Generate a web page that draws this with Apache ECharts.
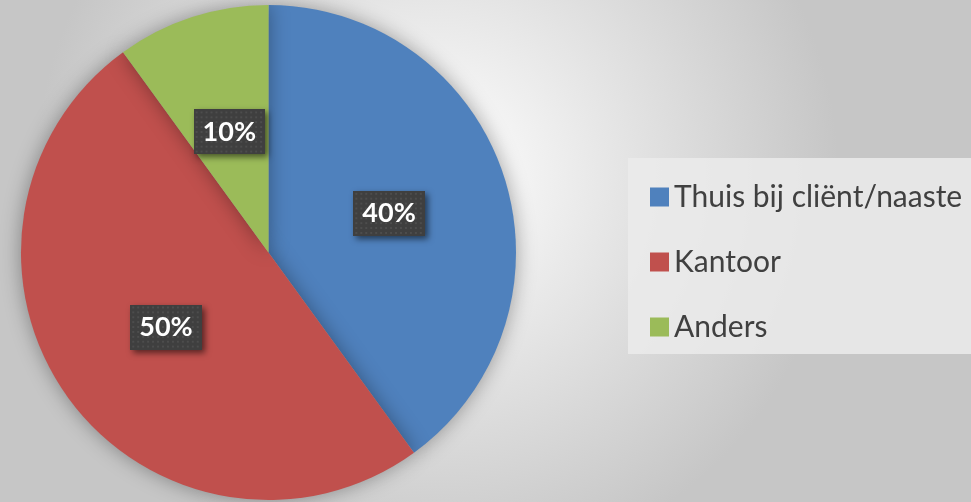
<!DOCTYPE html>
<html>
<head>
<meta charset="utf-8">
<script src="https://cdn.jsdelivr.net/npm/echarts@6/dist/echarts.min.js"></script>
<style>
    html, body { margin: 0; padding: 0; }
    #main { width: 971px; height: 502px; }
</style>
</head>
<body>
<div id="main"></div>
<script>
    // waarden uit de grafiek
    var categories = ['Thuis bij cliënt/naaste', 'Kantoor', 'Anders'];
    var values = [40, 50, 10];
    var colors = ['#4f81bd', '#c0504d', '#9bbb59'];

    // gestippelde achtergrond voor de labels
    function dotPattern(w, h) {
        var c = document.createElement('canvas');
        c.width = w; c.height = h;
        var ctx = c.getContext('2d');
        ctx.fillStyle = '#3f3f3f';
        ctx.fillRect(0, 0, w, h);
        ctx.fillStyle = '#4d4d4d';
        for (var y = 2; y < h; y += 5) {
            for (var x = 2; x < w; x += 5) {
                ctx.fillRect(x, y, 2, 2);
            }
        }
        return c;
    }

    var myChart = echarts.init(document.getElementById('main'));
    var pieData = [];
    for (var i = 0; i < categories.length; i++) {
        pieData.push({ name: categories[i], value: values[i], itemStyle: { color: colors[i] } });
    }

    var option = {
        backgroundColor: new echarts.graphic.RadialGradient(0.45, 0.35, 0.8, [
            { offset: 0, color: '#ffffff' },
            { offset: 1, color: '#c6c6c6' }
        ]),
        animation: false,
        graphic: [{
            type: 'rect',
            shape: { x: 628, y: 158, width: 343, height: 196 },
            style: { fill: 'rgba(235,235,235,0.85)' },
            z: 0
        }],
        legend: {
            orient: 'vertical',
            left: 645,
            top: 177,
            itemWidth: 19,
            itemHeight: 19,
            itemGap: 35,
            icon: 'rect',
            data: categories,
            textStyle: {
                fontFamily: 'Lato',
                fontSize: 30,
                lineHeight: 30,
                color: '#404040',
                padding: [0, 0, 0, 0]
            }
        },
        series: [{
            type: 'pie',
            center: [268.5, 252.5],
            radius: [0, 247.5],
            startAngle: 90,
            clockwise: true,
            itemStyle: {
                borderWidth: 0,
                shadowBlur: 20,
                shadowColor: 'rgba(0,0,0,0.35)'
            },
            label: {
                show: true,
                position: 'inside',
                formatter: '{d}%',
                color: '#ffffff',
                fontFamily: 'Lato',
                fontWeight: 'bold',
                fontSize: 27,
                backgroundColor: { image: dotPattern(72, 46) },
                padding: [10, 9, 8, 9],
                shadowColor: 'rgba(0,0,0,0.55)',
                shadowBlur: 6,
                shadowOffsetX: 3,
                shadowOffsetY: 3
            },
            labelLine: { show: false },
            emphasis: { disabled: true },
            data: pieData
        }]
    };
    myChart.setOption(option);
</script>
</body>
</html>
